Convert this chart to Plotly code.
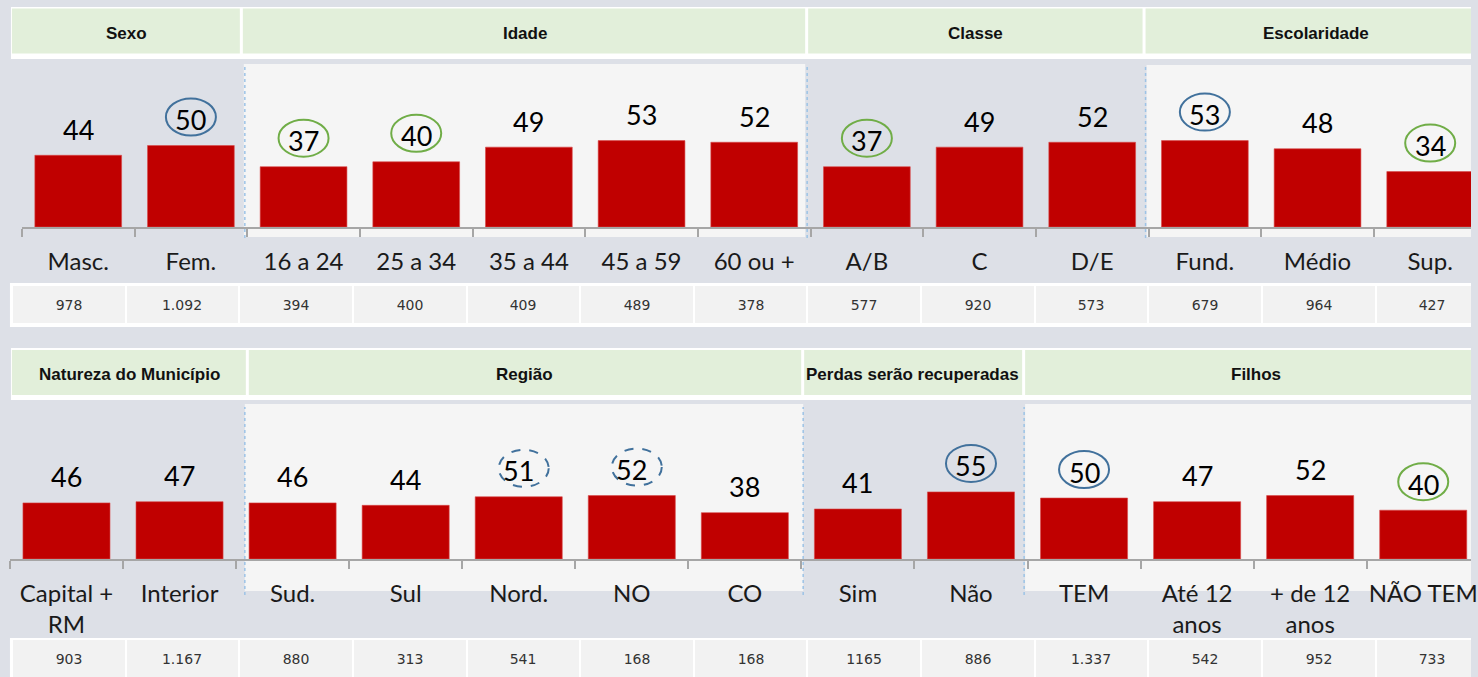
import plotly.graph_objects as go

W, H = 1478, 677

# ---------------- data ----------------
top_categories = ["Masc.", "Fem.", "16 a 24", "25 a 34", "35 a 44", "45 a 59", "60 ou +",
                  "A/B", "C", "D/E", "Fund.", "Médio", "Sup."]
top_values = [44, 50, 37, 40, 49, 53, 52, 37, 49, 52, 53, 48, 34]
top_samples = ["978", "1.092", "394", "400", "409", "489", "378", "577", "920", "573", "679", "964", "427"]
top_marks = ["", "blue", "green", "green", "", "", "", "green", "", "", "blue", "", "green"]
top_groups = ["Sexo", "Idade", "Classe", "Escolaridade"]

bottom_categories = ["Capital +<br>RM", "Interior", "Sud.", "Sul", "Nord.", "NO", "CO",
                     "Sim", "Não", "TEM", "Até 12<br>anos", "+ de 12<br>anos", "NÃO TEM"]
bottom_values = [46, 47, 46, 44, 51, 52, 38, 41, 55, 50, 47, 52, 40]
bottom_samples = ["903", "1.167", "880", "313", "541", "168", "168", "1165", "886", "1.337", "542", "952", "733"]
bottom_marks = ["", "", "", "", "dash", "dash", "", "", "blue", "blue", "", "", "green"]
bottom_groups = ["Natureza do Município", "Região", "Perdas serão recuperadas", "Filhos"]

# ---------------- styling ----------------
BG = "#DDE0E7"
PANEL = "#F5F5F5"
HEADER = "#E2EFDA"
CELL = "#F2F2F2"
RED = "#C00000"
BLUE = "#41719C"
GREEN = "#70AD47"
AXIS = "#A6A6A6"
DASH = "#9DC3E6"


def px(x):
    return x / W


def py(y):
    return 1 - y / H


fig = go.Figure()

# bars
fig.add_trace(go.Bar(x=top_categories, y=top_values, marker_color=RED, width=0.77,
                     marker_line=dict(color="#D84A4A", width=0.6),
                     xaxis="x", yaxis="y", hoverinfo="skip"))
fig.add_trace(go.Bar(x=bottom_categories, y=bottom_values, marker_color=RED, width=0.77,
                     marker_line=dict(color="#D84A4A", width=0.6),
                     xaxis="x2", yaxis="y2", hoverinfo="skip"))

# sample-size tables as one-row heatmaps
for samples, xa, ya in [(top_samples, "x3", "y3"), (bottom_samples, "x4", "y4")]:
    fig.add_trace(go.Heatmap(
        z=[[1] * len(samples)], x=list(range(len(samples))), y=[0],
        text=[samples], texttemplate="%{text}",
        textfont=dict(family="DejaVu Sans", size=14, color="#333333"),
        colorscale=[[0, CELL], [1, CELL]], showscale=False, xgap=2, ygap=0,
        xaxis=xa, yaxis=ya, hoverinfo="skip"))

shapes = []
annotations = []


def rect(x0, x1, y0, y1, color, layer="below"):
    shapes.append(dict(type="rect", xref="paper", yref="paper",
                       x0=px(x0), x1=px(x1), y0=py(y1), y1=py(y0),
                       fillcolor=color, line=dict(width=0), layer=layer))


def vline(x, y0, y1):
    shapes.append(dict(type="line", xref="paper", yref="paper",
                       x0=px(x), x1=px(x), y0=py(y1), y1=py(y0),
                       line=dict(color=DASH, width=1.5, dash="dot"), layer="below"))


# header bands
rect(11, W, 7, 59, "white")
for (a, b) in [(12, 241), (244, 809), (812, 1148), (1151, W)]:
    rect(a, b, 8.5, 53.5, HEADER)
rect(11, W, 348, 400, "white")
for (a, b) in [(12, 247), (250, 805), (808, 1027), (1030, W)]:
    rect(a, b, 350, 395, HEADER)

# light panels
rect(245, 809, 64, 237, PANEL)
rect(1152, W, 65, 237, PANEL)
rect(246, 807, 404, 591, PANEL)
rect(1030, W, 404, 591, PANEL)

# dashed separators
for x in [246, 811, 1151]:
    vline(x, 67, 238)
for x in [246, 807, 1029]:
    vline(x, 407, 595)

# table frames
rect(10, W, 283, 327, "white")
rect(10, W, 638, H, "white")

# header texts
hfont = dict(family="Liberation Sans", size=17, color="#111111")
for name, cx in zip(top_groups, [127, 527, 980, 1322]):
    annotations.append(dict(text="<b>%s</b>" % name, x=px(cx), y=py(33.5), xref="paper", yref="paper",
                            showarrow=False, font=hfont, xanchor="center", yanchor="middle"))
for name, cx in zip(bottom_groups, [130, 527, 917, 1262]):
    annotations.append(dict(text="<b>%s</b>" % name, x=px(cx), y=py(374.5), xref="paper", yref="paper",
                            showarrow=False, font=hfont, xanchor="center", yanchor="middle"))

# value labels and highlight ellipses
vfont = dict(family="Lato", size=27, color="#000000")
for vals, marks, xr, yr in [(top_values, top_marks, "x", "y"), (bottom_values, bottom_marks, "x2", "y2")]:
    for i, v in enumerate(vals):
        annotations.append(dict(text=str(v), x=i, y=v, xref=xr, yref=yr, showarrow=False,
                                font=vfont, xanchor="center", yanchor="middle", yshift=26))
        m = marks[i]
        if m:
            color = GREEN if m == "green" else BLUE
            dash = "dash" if m == "dash" else "solid"
            dx = 5 if m == "dash" else 0
            shapes.append(dict(type="circle", xref=xr, yref=yr, xsizemode="pixel", ysizemode="pixel",
                               xanchor=i, yanchor=v, x0=-25 + dx, x1=25 + dx, y0=10, y1=47,
                               line=dict(color=color, width=2, dash=dash), layer="above"))

tickfont = dict(family="Lato", size=24, color="#1a1a1a")
common_x = dict(type="category", showline=True, linecolor=AXIS, linewidth=1.5, ticks="outside",
                tickson="boundaries", ticklen=8, tickcolor=AXIS, tickwidth=1.5, tickfont=tickfont,
                tickangle=0, showgrid=False, zeroline=False, fixedrange=True, ticklabelstandoff=12)
hidden = dict(visible=False, showgrid=False, zeroline=False, fixedrange=True)

fig.update_layout(
    width=W, height=H, margin=dict(l=0, r=0, t=0, b=0),
    paper_bgcolor=BG, plot_bgcolor="rgba(0,0,0,0)", showlegend=False, bargap=0.2,
    xaxis=dict(common_x, domain=[px(22), 1], range=[-0.5, (W - 22) / 113.2 - 0.5], anchor="y"),
    yaxis=dict(hidden, domain=[py(227), py(64)], range=[0, 100], anchor="x"),
    xaxis2=dict(common_x, domain=[px(10), 1], range=[-0.5, (W - 10) / 113.6 - 0.5], anchor="y2"),
    yaxis2=dict(hidden, domain=[py(559), py(437)], range=[0, 100], anchor="x2"),
    xaxis3=dict(hidden, domain=[0, 1], range=[-0.5 - 12 / 114.17, (W - 12) / 114.17 - 0.5], anchor="y3"),
    yaxis3=dict(hidden, domain=[py(323), py(286)], range=[-0.5, 0.5], anchor="x3"),
    xaxis4=dict(hidden, domain=[0, 1], range=[-0.5 - 12 / 114.17, (W - 12) / 114.17 - 0.5], anchor="y4"),
    yaxis4=dict(hidden, domain=[0, py(640)], range=[-0.5, 0.5], anchor="x4"),
    shapes=shapes, annotations=annotations,
)

fig.write_html("out.html", config={"displayModeBar": False},
               post_script="document.body.style.margin='0';document.body.style.overflow='hidden';"
                           "document.documentElement.style.overflow='hidden';")
